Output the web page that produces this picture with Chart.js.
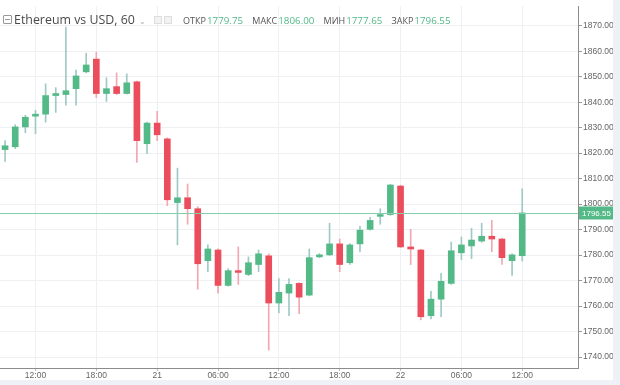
<!DOCTYPE html>
<html>
<head>
<meta charset="utf-8">
<script src="https://cdn.jsdelivr.net/npm/chart.js@4.4.1/dist/chart.umd.min.js"></script>
<style>
  body { margin: 0; background: #eef1f5; }
  #wrap { position: absolute; left: 0; top: 0; width: 613px; height: 380px; background: #fff; }
  #hdr { position: absolute; left: 3px; top: 7px; font-family: "Open Sans", sans-serif; white-space: nowrap; color: #4a4a4a; }
  #hdr .ico { display: inline-block; width: 7px; height: 7px; border: 1px solid #999; border-radius: 1px; vertical-align: 0px; margin-right: 2px; position: relative; }
  #hdr .ico:after { content: ""; position: absolute; left: 1px; right: 1px; top: 3px; height: 1px; background: #999; }
  #hdr .title { font-size: 12.4px; }
  #hdr .caret { font-size: 8px; color: #aaa; margin: 0 8px 0 4px; }
  #hdr .sq { display: inline-block; width: 6px; height: 6px; border: 1px solid #ddd; background: #f2f2f2; margin-right: 2px; }
  #hdr .lbl { font-size: 9px; margin-left: 5px; color: #555; }
  #hdr .val { font-size: 9.8px; color: #53b987; margin-left: 1px; }
</style>
</head>
<body>
<div id="wrap">
  <canvas id="grafico" width="613" height="380"></canvas>
  <div id="hdr">
    <span class="ico"></span><span class="title">Ethereum vs USD, 60</span><span class="caret">&#8964;</span><span class="sq"></span><span class="sq"></span>
    <span class="lbl">ОТКР</span><span class="val">1779.75</span>
    <span class="lbl">МАКС</span><span class="val">1806.00</span>
    <span class="lbl">МИН</span><span class="val">1777.65</span>
    <span class="lbl">ЗАКР</span><span class="val">1796.55</span>
  </div>
</div>
<script>
const horas = [
  '09:00','10:00','11:00','12:00','13:00','14:00','15:00','16:00','17:00','18:00','19:00','20:00','21:00','22:00','23:00',
  '21','01:00','02:00','03:00','04:00','05:00','06:00','07:00','08:00','09:00','10:00','11:00','12:00','13:00','14:00','15:00','16:00','17:00','18:00','19:00','20:00','21:00','22:00','23:00',
  '22','01:00','02:00','03:00','04:00','05:00','06:00','07:00','08:00','09:00','10:00','11:00','12:00','13:00','14:00','15:00','16:00','17:00'
];
const rotulosVisiveis = ['12:00', '18:00', '06:00', '21', '22'];
const dias = ['21', '22'];

const abertura = [
  1821.4, 1822.5, 1830.3, 1834.5, 1835.3, 1842.6, 1843.0, 1845.3, 1851.9, 1856.9,
  1843.4, 1846.1, 1843.4, 1848.0, 1823.7, 1831.8, 1825.6, 1800.6, 1802.5, 1798.2,
  1777.8, 1782.0, 1768.1, 1773.9, 1772.4, 1776.3, 1779.7, 1761.2, 1765.1, 1768.9,
  1764.3, 1779.3, 1780.1, 1784.4, 1777.0, 1784.4, 1790.1, 1795.2, 1795.9, 1807.1,
  1783.2, 1782.0, 1756.2, 1762.7, 1768.9, 1780.9, 1783.6, 1785.5, 1787.4, 1786.3,
  1777.8, 1779.75
];
const maxima = [
  1824.9, 1831.2, 1834.9, 1836.8, 1847.2, 1845.7, 1869.5, 1852.6, 1859.2, 1859.6,
  1849.6, 1851.5, 1851.1, 1848.3, 1832.2, 1836.4, 1826.0, 1814.1, 1807.9, 1799.0,
  1784.0, 1782.5, 1774.7, 1783.2, 1779.3, 1782.0, 1780.5, 1770.8, 1770.8, 1769.2,
  1782.4, 1780.6, 1792.5, 1786.3, 1784.5, 1791.3, 1794.8, 1798.2, 1807.8, 1807.4,
  1790.1, 1782.3, 1765.8, 1772.8, 1785.1, 1787.1, 1790.5, 1792.5, 1793.6, 1786.6,
  1780.5, 1806.00
];
const minima = [
  1816.8, 1821.8, 1828.0, 1827.6, 1832.2, 1836.0, 1838.8, 1838.8, 1851.5, 1841.8,
  1840.3, 1843.0, 1843.2, 1816.4, 1819.8, 1824.9, 1799.4, 1784.0, 1792.1, 1766.6,
  1773.5, 1765.1, 1767.8, 1768.5, 1772.0, 1773.5, 1742.7, 1757.3, 1756.2, 1757.0,
  1764.0, 1779.0, 1779.8, 1773.5, 1776.3, 1781.3, 1789.8, 1792.1, 1795.6, 1783.0,
  1776.3, 1754.6, 1755.0, 1755.8, 1768.5, 1778.2, 1778.6, 1785.0, 1781.3, 1776.3,
  1772.0, 1777.65
];
const fechamento = [
  1822.9, 1830.3, 1834.1, 1835.3, 1842.6, 1843.4, 1844.5, 1850.3, 1854.6, 1843.4,
  1845.3, 1843.4, 1847.6, 1824.9, 1831.8, 1827.2, 1801.7, 1802.5, 1798.2, 1776.6,
  1782.4, 1768.1, 1773.9, 1773.2, 1777.0, 1780.5, 1761.2, 1765.4, 1768.5, 1763.5,
  1779.0, 1780.1, 1784.4, 1776.3, 1784.0, 1789.8, 1793.6, 1795.9, 1807.5, 1783.2,
  1782.4, 1755.8, 1762.7, 1769.7, 1781.7, 1784.0, 1785.9, 1787.4, 1786.3, 1779.0,
  1780.1, 1796.55
];
const ticksY = [1740, 1750, 1760, 1770, 1780, 1790, 1800, 1810, 1820, 1830, 1840, 1850, 1860, 1870];

const verde = '#53b987';
const vermelho = '#eb4d5c';
const pavioVerde = '#9fc9c4';
const pavioVermelho = '#f3a7b0';

const corpos = abertura.map((o, i) => [o, fechamento[i]]);
const pavios = minima.map((l, i) => [l, maxima[i]]);
const alta = abertura.map((o, i) => fechamento[i] >= o);

// linha do preco atual + etiqueta no eixo
const precoAtual = {
  id: 'precoAtual',
  afterDatasetsDraw(chart) {
    const ctx = chart.ctx;
    const area = chart.chartArea;
    const valor = fechamento[fechamento.length - 1];
    const y = Math.round(chart.scales.y.getPixelForValue(valor)) + 0.5;
    ctx.save();
    ctx.strokeStyle = '#86cfad';
    ctx.lineWidth = 1;
    ctx.beginPath();
    ctx.moveTo(area.left, y);
    ctx.lineTo(area.right, y);
    ctx.stroke();
    ctx.fillStyle = verde;
    ctx.fillRect(area.right + 1, y - 7, 35, 13);
    ctx.fillStyle = '#fff';
    ctx.font = '8px "Liberation Sans", Arial, sans-serif';
    ctx.textBaseline = 'middle';
    ctx.fillText(valor.toFixed(2), area.right + 4, y);
    ctx.restore();
  }
};

const grafico = new Chart(document.getElementById('grafico'), {
  type: 'bar',
  data: {
    labels: horas,
    datasets: [
      {
        label: 'corpo',
        data: corpos,
        backgroundColor: alta.map(a => a ? verde : vermelho),
        barThickness: 6,
        minBarLength: 1,
        grouped: false,
        borderWidth: 0
      },
      {
        label: 'pavio',
        data: pavios,
        backgroundColor: alta.map(a => a ? pavioVerde : pavioVermelho),
        barThickness: 1,
        grouped: false,
        borderWidth: 0
      }
    ]
  },
  options: {
    responsive: false,
    animation: false,
    devicePixelRatio: 1,
    layout: { padding: 0 },
    plugins: { legend: { display: false }, tooltip: { enabled: false } },
    scales: {
      x: {
        offset: true,
        grid: { offset: false, color: '#eef0f4', tickLength: 3, tickColor: '#bbb' },
        border: { color: '#8c8c8c' },
        ticks: {
          autoSkip: false,
          maxRotation: 0,
          padding: 0,
          color: '#666',
          font: (c) => ({
            family: '"Liberation Sans", Arial, sans-serif',
            size: 8.5,
            weight: dias.includes(horas[c.index]) ? 'bold' : 'normal'
          }),
          callback: (v, i) => rotulosVisiveis.includes(horas[i]) ? horas[i] : null
        },
        afterFit: (s) => { s.height = 12; }
      },
      y: {
        position: 'right',
        min: 1735.7,
        max: 1877.7,
        afterBuildTicks: (s) => { s.ticks = ticksY.map(v => ({ value: v })); },
        grid: { color: '#eef0f4', tickLength: 4, tickColor: '#999' },
        border: { color: '#8c8c8c' },
        ticks: {
          padding: 1,
          color: '#666',
          font: { family: '"Liberation Sans", Arial, sans-serif', size: 8.5 },
          callback: (v) => Number(v).toFixed(2)
        },
        afterFit: (s) => { s.width = 35; }
      }
    }
  },
  plugins: [precoAtual]
});
</script>
</body>
</html>
